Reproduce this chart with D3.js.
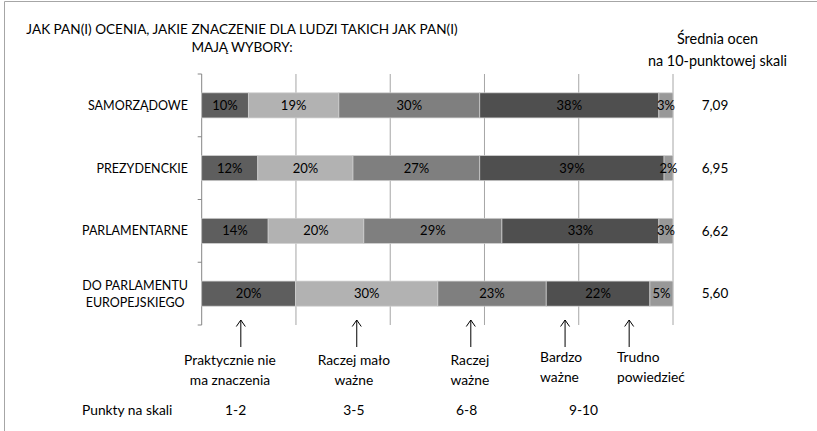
<!DOCTYPE html>
<html>
<head>
<meta charset="utf-8">
<script src="https://cdn.jsdelivr.net/npm/d3@7"></script>
<style>
  body { margin: 0; background: #fff; }
  text { font-family: Lato, "Noto Sans", sans-serif; fill: #000; }
</style>
</head>
<body>
<svg id="canvas"></svg>
<script>
// data (share of answers, %)
let categories = ["SAMORZĄDOWE", "PREZYDENCKIE", "PARLAMENTARNE", "DO PARLAMENTU|EUROPEJSKIEGO"];
let seriesNames = ["1-2", "3-5", "6-8", "9-10", "trudno"];
let v12 = [9.9, 11.9, 14.1, 19.9];
let v35 = [19.2, 20.2, 20.3, 30.2];
let v68 = [29.9, 26.9, 29.3, 23.0];
let v910 = [38.0, 39.1, 33.3, 22.0];
let vTrudno = [3.0, 1.9, 3.0, 4.9];
let averages = ["7,09", "6,95", "6,62", "5,60"];
let colors = ["#5e5e5e", "#b2b2b2", "#7f7f7f", "#4f4f4f", "#989898"];

let arrowLabels = [["Praktycznie nie", "ma znaczenia"], ["Raczej mało", "ważne"], ["Raczej", "ważne"], ["Bardzo", "ważne"], ["Trudno", "powiedzieć"]];
let pointLabels = ["1-2", "3-5", "6-8", "9-10"];

let width = 817;
let height = 431;

let canvas = d3.select("#canvas")
canvas.attr("width", width);
canvas.attr("height", height);

// outer frame (only top and left visible)
canvas.append("path")
      .attr("d", "M4.5," + height + " V1.5 H" + width)
      .attr("fill", "none")
      .attr("stroke", "#a6a6a6");

let xScale = d3.scaleLinear().domain([0, 100]).range([201.7, 673]);
let yScale = d3.scaleBand().domain(categories).range([74, 325]).paddingInner(0.6).paddingOuter(0.3);

let drawGrid = () => {
  canvas.append("g")
        .selectAll("line")
        .data([20, 40, 60, 80, 100])
        .enter()
        .append("line")
        .attr("x1", d => xScale(d)).attr("x2", d => xScale(d))
        .attr("y1", 74).attr("y2", 325)
        .attr("stroke", "#a6a6a6");

  let axis = canvas.append("g").attr("stroke", "#868686");
  axis.append("line")
      .attr("x1", xScale(0)).attr("x2", xScale(0))
      .attr("y1", 74).attr("y2", 325);
  let bounds = d3.range(categories.length + 1).map(i => 74 + i * (251 / categories.length));
  axis.selectAll("line.tick")
      .data(bounds)
      .enter()
      .append("line")
      .attr("class", "tick")
      .attr("x1", xScale(0) - 4).attr("x2", xScale(0))
      .attr("y1", d => d).attr("y2", d => d);
}

let drawBars = () => {
  let rows = categories.map((c, i) => ({cat: c, "1-2": v12[i], "3-5": v35[i], "6-8": v68[i], "9-10": v910[i], "trudno": vTrudno[i]}));
  let stacked = d3.stack().keys(seriesNames)(rows);

  let groups = canvas.append("g")
        .selectAll("g")
        .data(stacked)
        .enter()
        .append("g")
        .attr("fill", (d, i) => colors[i]);

  groups.selectAll("rect")
        .data(d => d)
        .enter()
        .append("rect")
        .attr("x", d => xScale(d[0]))
        .attr("width", d => xScale(d[1]) - xScale(d[0]))
        .attr("y", d => yScale(d.data.cat))
        .attr("height", yScale.bandwidth())
        .attr("stroke", "#cfcfcf")
        .attr("stroke-width", 0.75);

  groups.selectAll("text")
        .data(d => d)
        .enter()
        .append("text")
        .attr("x", d => (xScale(d[0]) + xScale(d[1])) / 2)
        .attr("y", d => yScale(d.data.cat) + yScale.bandwidth() / 2)
        .attr("dy", "0.35em")
        .attr("text-anchor", "middle")
        .style("font-size", "13px")
        .text(d => Math.round(d[1] - d[0]) + "%");
}

let drawLabels = () => {
  // category names, right aligned next to the axis
  categories.forEach((c, i) => {
    let lines = c.split("|");
    let cy = yScale(c) + yScale.bandwidth() / 2;
    let t = canvas.append("text")
                  .attr("text-anchor", "end")
                  .style("font-size", "12.5px");
    lines.forEach((l, j) => {
      t.append("tspan")
       .attr("x", 188)
       .attr("y", cy + (j - (lines.length - 1) / 2) * 17)
       .attr("dy", "0.35em")
       .text(l);
    });
    if (lines.length > 1) {
      // centre the lines of a wrapped label on each other
      let w = t.node().getBBox().width;
      t.attr("text-anchor", "middle").selectAll("tspan").attr("x", 188 - w / 2);
    }
  });

  // averages
  canvas.append("g")
        .selectAll("text")
        .data(averages)
        .enter()
        .append("text")
        .attr("x", 715)
        .attr("y", (d, i) => yScale(categories[i]) + yScale.bandwidth() / 2)
        .attr("dy", "0.35em")
        .attr("text-anchor", "middle")
        .style("font-size", "13.5px")
        .text(d => d);

  // titles
  let title = canvas.append("text").attr("text-anchor", "middle").style("font-size", "13px");
  let line1 = title.append("tspan").attr("x", 242).attr("y", 29.5).attr("dy", "0.35em").text("JAK PAN(I) OCENIA, JAKIE ZNACZENIE DLA LUDZI TAKICH JAK PAN(I)");
  title.append("tspan").attr("x", 242).attr("y", 47).attr("dy", "0.35em").text("MAJĄ WYBORY:");
  // first line runs from about x=26 to x=458
  let w1 = line1.node().getComputedTextLength();
  title.style("font-size", (13 * 432 / w1) + "px");

  let avgTitle = canvas.append("text").attr("text-anchor", "middle").style("font-size", "14.4px");
  avgTitle.append("tspan").attr("x", 717.5).attr("y", 38.5).attr("dy", "0.35em").text("Średnia ocen");
  avgTitle.append("tspan").attr("x", 717.5).attr("y", 60.5).attr("dy", "0.35em").text("na 10-punktowej skali");
}

let drawAnnotations = () => {
  // layout of the text boxes under the plot, in % of the axis
  let arrowAt = [8.3, 32.9, 57.1, 77.1, 90.7];
  let labelAt = [6.0, 32.3, 56.9, 71.8, 88.1];
  let labelAnchor = ["middle", "middle", "middle", "start", "start"];
  let pointAt = [7.2, 32.3, 56.2, 81.0];

  let arrows = canvas.append("g").attr("stroke", "#000").attr("fill", "none");
  arrowAt.forEach(p => {
    let x = xScale(p);
    arrows.append("path").attr("d", "M" + x + ",347 V320");
    arrows.append("path").attr("d", "M" + (x - 4.5) + ",326.5 L" + x + ",320 L" + (x + 4.5) + ",326.5");
  });

  arrowLabels.forEach((lines, i) => {
    let top = i >= 3 ? 356.7 : 360;
    let t = canvas.append("text").attr("text-anchor", labelAnchor[i]).style("font-size", "13.8px");
    lines.forEach((l, j) => {
      t.append("tspan")
       .attr("x", xScale(labelAt[i]))
       .attr("y", top + j * 20)
       .attr("dy", "0.35em")
       .text(l);
    });
  });

  canvas.append("text")
        .attr("x", 82)
        .attr("y", 410.5)
        .attr("dy", "0.35em")
        .style("font-size", "13.8px")
        .text("Punkty na skali");

  canvas.append("g")
        .selectAll("text")
        .data(pointLabels)
        .enter()
        .append("text")
        .attr("x", (d, i) => xScale(pointAt[i]))
        .attr("y", 410.5)
        .attr("dy", "0.35em")
        .attr("text-anchor", "middle")
        .style("font-size", "13.8px")
        .text(d => d);
}

drawGrid();
drawBars();
drawLabels();
drawAnnotations();
</script>
</body>
</html>
